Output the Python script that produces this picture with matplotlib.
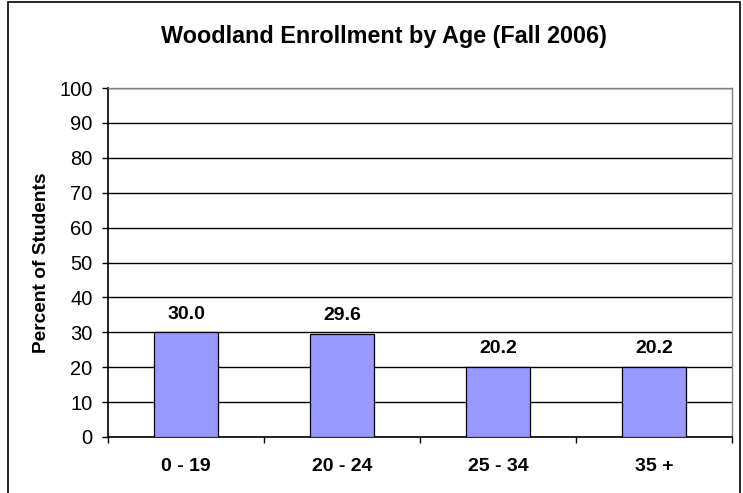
import matplotlib
matplotlib.use('Agg')
import matplotlib.pyplot as plt
from matplotlib.patches import Rectangle

# Datos
age_groups = ['0 - 19', '20 - 24', '25 - 34', '35 +']
percent_students = [30.0, 29.6, 20.2, 20.2]
y_ticks = list(range(0, 101, 10))

plt.rcParams['font.family'] = ['Liberation Sans', 'DejaVu Sans']

W, H = 743, 493
fig = plt.figure(figsize=(W / 100, H / 100), dpi=100)
fig.patch.set_facecolor('white')

# borde exterior de la figura
fig.add_artist(Rectangle((8 / W, -0.05), (740 - 8) / W, 1.05 - 2 / H,
                         transform=fig.transFigure, fill=False,
                         edgecolor='black', linewidth=1.2))

ax = fig.add_axes([108 / W, 1 - 437 / H, (732 - 108) / W, (437 - 88) / H])

x = list(range(len(age_groups)))
ax.bar(x, percent_students, width=0.41, color='#9999FF',
       edgecolor='black', linewidth=0.9, zorder=3)

for xi, v in zip(x, percent_students):
    ax.annotate(f'{v:.1f}', (xi, v), xytext=(0, 7), textcoords='offset points',
                ha='center', va='bottom', fontsize=14, fontweight='bold')

ax.set_xlim(-0.5, len(age_groups) - 0.5)
ax.set_ylim(0, 100)
ax.set_yticks(y_ticks)
ax.yaxis.grid(True, color='black', linewidth=1.0, zorder=0)
ax.set_axisbelow(True)

ax.set_xticks(x)
ax.set_xticklabels(age_groups, fontsize=14, fontweight='bold')
ax.tick_params(axis='x', which='major', length=0, pad=15)
ax.set_xticks([i - 0.5 for i in range(len(age_groups) + 1)], minor=True)
ax.tick_params(axis='x', which='minor', length=4, width=1, direction='out')
ax.tick_params(axis='y', length=4, width=1, labelsize=14.5, pad=7)

for s in ['top', 'right']:
    ax.spines[s].set_color('#808080')
    ax.spines[s].set_linewidth(1.0)
for s in ['left', 'bottom']:
    ax.spines[s].set_color('black')
    ax.spines[s].set_linewidth(1.2)

ax.set_ylabel('Percent of Students', fontsize=13.8, fontweight='bold', labelpad=7)

fig.text(384 / W, 1 - 36 / H, 'Woodland Enrollment by Age (Fall 2006)',
         ha='center', va='center', fontsize=16.8, fontweight='bold')

fig.savefig('out.png', dpi=100, facecolor='white')
